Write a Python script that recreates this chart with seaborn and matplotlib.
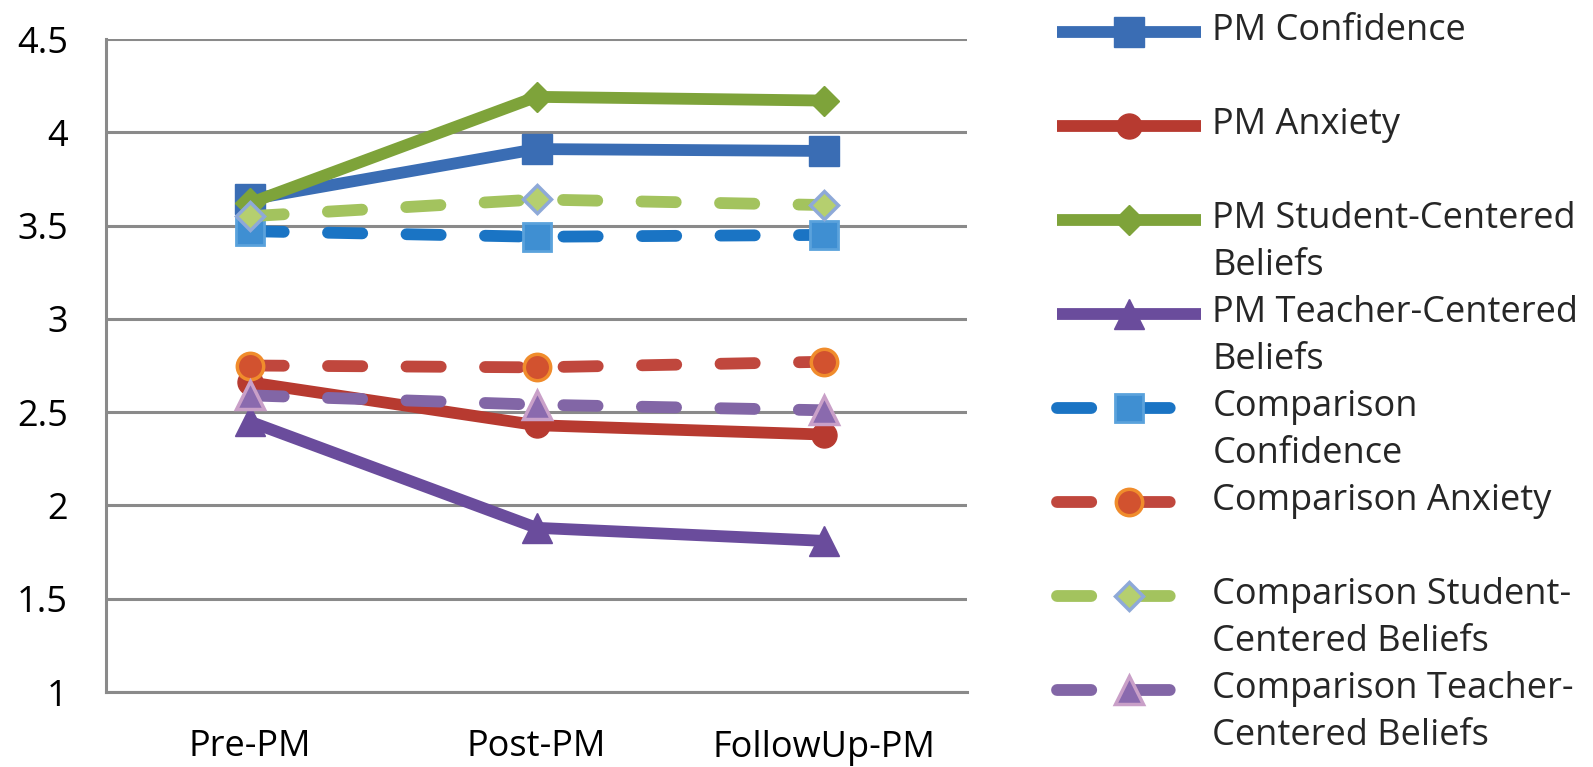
import numpy as np
import pandas as pd
import matplotlib
matplotlib.use("Agg")
import matplotlib.pyplot as plt
import seaborn as sns
from matplotlib.legend_handler import HandlerLine2D

# data
phases = ["Pre-PM", "Post-PM", "FollowUp-PM"]

pm_confidence = [3.64, 3.91, 3.90]
pm_anxiety = [2.66, 2.43, 2.38]
pm_student = [3.62, 4.19, 4.17]
pm_teacher = [2.45, 1.88, 1.81]
cmp_confidence = [3.47, 3.44, 3.45]
cmp_anxiety = [2.75, 2.74, 2.77]
cmp_student = [3.55, 3.64, 3.61]
cmp_teacher = [2.59, 2.54, 2.51]

series_labels = [
    "PM Confidence\n ",
    "PM Anxiety\n ",
    "PM Student-Centered\nBeliefs",
    "PM Teacher-Centered\nBeliefs",
    "Comparison\nConfidence",
    "Comparison Anxiety\n ",
    "Comparison Student-\nCentered Beliefs",
    "Comparison Teacher-\nCentered Beliefs",
]
y_ticks = [1, 1.5, 2, 2.5, 3, 3.5, 4, 4.5]
y_ticklabels = ["1", "1.5", "2", "2.5", "3", "3.5", "4", "4.5"]

sns.set_style("white")
plt.rcParams['font.family'] = ['Open Sans', 'DejaVu Sans']
TICK_FS = 26
LEG_FS = 26

fig = plt.figure(figsize=(15.93, 7.67), dpi=100)
ax = fig.add_axes([106 / 1593, 1 - 692 / 767, (967 - 106) / 1593, (692 - 39) / 767])

dash = (0, (2.9, 3.75))
# (values, line colour, linestyle, marker, size, face, edge, edge width)
styles = [
    (pm_confidence, "#3a6db4", "-", "s", 21, "#3a6db4", "#3a6db4", 1.0),
    (pm_anxiety, "#b73a30", "-", "o", 18, "#b73a30", "#b73a30", 1.0),
    (pm_student, "#7ea33a", "-", "D", 15, "#7ea33a", "#7ea33a", 1.0),
    (pm_teacher, "#6a4c9c", "-", "^", 22, "#6a4c9c", "#6a4c9c", 1.0),
    (cmp_confidence, "#1a74c4", dash, "s", 20, "#3f8fd2", "#5aa2dc", 2.0),
    (cmp_anxiety, "#c0473d", dash, "o", 19, "#d2522f", "#f08c2c", 2.5),
    (cmp_student, "#a3c35e", dash, "D", 14, "#b5cf6f", "#8ea9d8", 2.5),
    (cmp_teacher, "#8266a6", dash, "^", 20, "#8a6aae", "#c9a0c8", 2.5),
]

handles = []
for (vals, col, ls, mk, ms, mfc, mec, mew), lab in zip(styles, series_labels):
    df = pd.DataFrame({"phase": phases, "value": vals})
    sns.lineplot(data=df, x="phase", y="value", ax=ax, sort=False, errorbar=None,
                 color=col, linewidth=8.5, linestyle=ls,
                 dash_capstyle="round", solid_capstyle="butt",
                 marker=mk, markersize=ms, markerfacecolor=mfc,
                 markeredgecolor=mec, markeredgewidth=mew, label=lab)
    handles.append(ax.get_lines()[-1])

if ax.get_legend() is not None:
    ax.get_legend().remove()

ax.set_xlim(-0.5, 2.5)
ax.set_ylim(1, 4.5)
ax.set_yticks(y_ticks)
ax.set_yticklabels(y_ticklabels)
ax.set_xlabel("")
ax.set_ylabel("")
ax.tick_params(axis="both", length=0, labelsize=TICK_FS, colors="black")
ax.tick_params(axis="y", pad=27.5)
ax.tick_params(axis="x", pad=27)

ax.yaxis.grid(True, color="#8a8a8a", linewidth=2.2)
ax.xaxis.grid(False)
ax.set_axisbelow(True)
for side in ["top", "right"]:
    ax.spines[side].set_visible(False)
for side in ["left", "bottom"]:
    ax.spines[side].set_color("#8a8a8a")
    ax.spines[side].set_linewidth(2.2)


# keep legend handles level with the first line of each label
class FirstLineHandler(HandlerLine2D):
    def create_artists(self, legend, orig_handle, xdescent, ydescent,
                       width, height, fontsize, trans):
        arts = super().create_artists(legend, orig_handle, xdescent, ydescent,
                                      width, height, fontsize, trans)
        for a in arts:
            a.set_ydata(np.asarray(a.get_ydata()) + 17.3)
        return arts


leg = fig.legend(handles, series_labels, loc="upper left",
                 bbox_to_anchor=(1057 / 1593, 1 - 13.5 / 767),
                 frameon=False, fontsize=LEG_FS, borderpad=0, borderaxespad=0,
                 handlelength=4.0, handletextpad=0.3, labelspacing=0.31,
                 handler_map={h: FirstLineHandler() for h in handles})
for t in leg.get_texts():
    t.set_linespacing(1.4)

fig.savefig("out.png", dpi=100)
